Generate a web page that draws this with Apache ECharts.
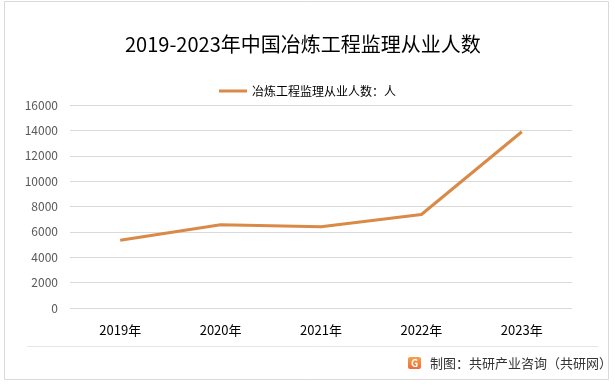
<!DOCTYPE html>
<html>
<head>
<meta charset="utf-8">
<script src="https://cdn.jsdelivr.net/npm/echarts@6/dist/echarts.min.js"></script>
<style>html,body{margin:0;padding:0;background:#fff;}#c{width:615px;height:385px;}</style>
</head>
<body>
<div id="c"></div>
<script>
const categories = ['2019年', '2020年', '2021年', '2022年', '2023年'];
const seriesName = '冶炼工程监理从业人数：人';
const values = [5340, 6570, 6400, 7370, 13890];
const titleText = '2019-2023年中国冶炼工程监理从业人数';
const sourceText = '制图：共研产业咨询（共研网）';

const chart = echarts.init(document.getElementById('c'), null, {renderer: 'canvas'});
const font = '"Noto Sans CJK SC", "Noto Sans", sans-serif';
chart.setOption({
  backgroundColor: '#fff',
  animation: false,
  title: {
    text: titleText, left: 120, top: 29,
    textStyle: {fontFamily: font, fontSize: 20, fontWeight: 'normal', color: '#000'}
  },
  legend: {
    data: [seriesName], left: 'center', top: 80,
    itemWidth: 28, itemHeight: 3, itemGap: 4,
    icon: 'rect',
    textStyle: {fontFamily: font, fontSize: 12, color: '#000'}
  },
  grid: {left: 70, right: 43, top: 105, bottom: 77},
  xAxis: {
    type: 'category', data: categories, boundaryGap: true,
    axisLine: {show: false}, axisTick: {show: false},
    axisLabel: {fontFamily: font, fontSize: 13, color: '#000', margin: 16}
  },
  yAxis: {
    type: 'value', min: 0, max: 16000, interval: 2000,
    axisLine: {show: false}, axisTick: {show: false},
    axisLabel: {fontFamily: font, fontSize: 12, color: '#595959', margin: 12, formatter: v => String(v)},
    splitLine: {lineStyle: {color: '#d9d9d9', width: 1}}
  },
  series: [{
    name: seriesName, type: 'line', data: values,
    symbol: 'none', smooth: false,
    lineStyle: {color: '#d98a47', width: 3},
    itemStyle: {color: '#d98a47'}
  }],
  graphic: [
    {type: 'rect', shape: {x: 4.5, y: 1.5, width: 604, height: 378}, style: {fill: 'none', stroke: '#d9d9d9', lineWidth: 1}, z: 100},
    {type: 'line', shape: {x1: 27, y1: 346.5, x2: 598, y2: 346.5}, style: {stroke: '#e6e6e6', lineWidth: 1}},
    {type: 'rect', shape: {x: 408, y: 357, width: 13, height: 12, r: 2},
     style: {fill: new echarts.graphic.LinearGradient(0, 0, 0, 1, [{offset: 0, color: '#f7a24a'}, {offset: 1, color: '#ef6a3a'}])}},
    {type: 'text', x: 414.5, y: 363, style: {text: 'G', fill: '#fff', font: 'bold 10px ' + font, textAlign: 'center', textVerticalAlign: 'middle'}},
    {type: 'text', x: 430, y: 363, style: {text: sourceText, fill: '#333', font: '13px ' + font, textVerticalAlign: 'middle'}}
  ]
});
</script>
</body>
</html>
